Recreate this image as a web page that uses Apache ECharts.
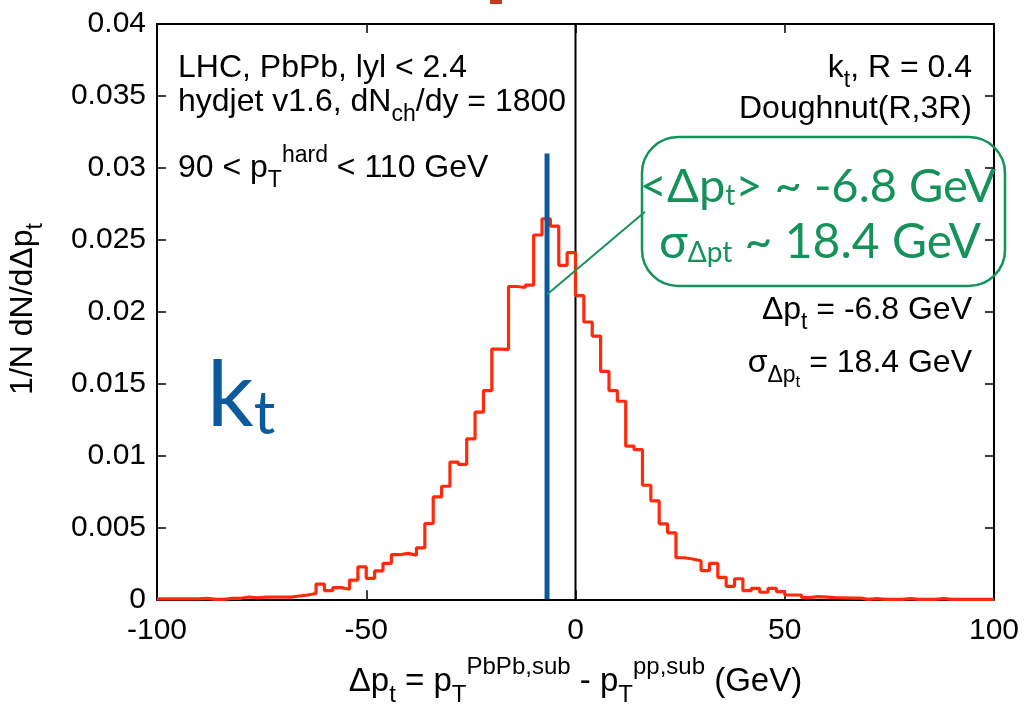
<!DOCTYPE html>
<html>
<head>
<meta charset="utf-8">
<script src="https://cdn.jsdelivr.net/npm/echarts@6/dist/echarts.min.js"></script>
<style>
  html, body { margin: 0; padding: 0; background: #ffffff; }
  #chart { width: 1035px; height: 713px; }
</style>
</head>
<body>
<div id="chart"></div>
<script>
// Δp_t distribution for kt jets, 2 GeV bins from -100 to 100 GeV
const binLow = -100;
const binWidth = 2;
const binValues = [
  0.00003, 0.00003, 0.00003, 0.00003, 0.00003, 0.00007, 0, 0, 0.00007, 0.00007,            // -100 .. -80
  0.00016, 0.0001, 0.00015, 0.00015, 0.00015, 0.00015, 0.00023, 0.0003, 0.0004, 0.00106,   // -80 .. -60
  0.0006, 0.00081, 0.0007, 0.00134, 0.00225, 0.00146, 0.00197, 0.0025, 0.0031, 0.00319,    // -60 .. -40
  0.00307, 0.00358, 0.00527, 0.00712, 0.00786, 0.00954, 0.00938, 0.01116, 0.01301, 0.01451, // -40 .. -20
  0.0174, 0.01738, 0.02175, 0.02168, 0.02184, 0.02533, 0.02646, 0.02595, 0.02322, 0.0241,  // -20 .. 0
  0.02112, 0.01928, 0.0183, 0.01585, 0.01451, 0.01377, 0.01065, 0.0104, 0.00793, 0.00684,  // 0 .. 20
  0.00525, 0.00462, 0.00289, 0.0028, 0.00268, 0.002, 0.0025, 0.00153, 0.0009, 0.00143,     // 20 .. 40
  0.0006, 0.00076, 0.00049, 0.00076, 0.00053, 0.0003, 0.0003, 0.00012, 0.00018, 0.00015,   // 40 .. 60
  0.00012, 0.0001, 0.00008, 0.00008, 0, 0.00005, 0, 0, 0, 0.00005,                         // 60 .. 80
  0, 0, 0, 0.00005, 0, 0, 0, 0, 0, 0                                                       // 80 .. 100
];
const xRange = [-100, 100];
const xStep = 50;
const yRange = [0, 0.04];
const yStep = 0.005;
const meanShift = -6.8;     // <Δp_t> in GeV
const widthSigma = 18.4;    // σ of Δp_t in GeV
const meanLineTop = 0.031;
const connectorAt = 0.0212;

// step outline: one point at each lower bin edge plus the closing upper edge
const histPoints = binValues.map((v, i) => [binLow + i * binWidth, v]);
histPoints.push([binLow + binValues.length * binWidth, binValues[binValues.length - 1]]);

const SANS = '"Liberation Sans", Arial, Helvetica, sans-serif';
const HUMAN = 'Lato, "Noto Sans", sans-serif';
const GREEN = '#15925a';
const BLUE = '#0c5a9c';

// rich-text pieces: main size, subscript (pushed down) and superscript (pushed up)
function richSet(main, sub, subShift, sup, supShift, family, color) {
  return {
    a: { fontSize: main, fontFamily: family, fill: color, color: color },
    s: { fontSize: sub, lineHeight: sub, fontFamily: family, fill: color, color: color, padding: [subShift * 2, 0, 0, 0] },
    u: { fontSize: sup, lineHeight: sup, fontFamily: family, fill: color, color: color, padding: [0, 0, supShift * 2, 0] },
    ss: { fontSize: Math.round(sub * 0.75), lineHeight: sub, fontFamily: family, fill: color, color: color, padding: [subShift * 2 + 12, 0, 0, 0] }
  };
}
const blackRich = richSet(32, 23, 12.8, 23, 12.2, SANS, '#000');

function label(text, x, y, align) {
  return {
    type: 'text', x: x, y: y, z: 50,
    style: { text: text, rich: blackRich, textAlign: align || 'left', textVerticalAlign: 'middle',
             fontSize: 32, fontFamily: SANS, fill: '#000' }
  };
}

const chart = echarts.init(document.getElementById('chart'));

const axisCommon = {
  type: 'value',
  axisLine: { show: true, onZero: false, lineStyle: { color: '#000', width: 2 } },
  axisTick: { show: true, inside: true, length: 9, lineStyle: { color: '#000', width: 1.5 } },
  splitLine: { show: false }
};

chart.setOption({
  animation: false,
  backgroundColor: '#ffffff',
  grid: { left: 157, right: 41, top: 24, bottom: 112, show: false },
  xAxis: [
    Object.assign({}, axisCommon, {
      position: 'bottom', min: xRange[0], max: xRange[1], interval: xStep,
      axisLabel: { color: '#000', fontSize: 30, fontFamily: SANS, margin: 16 },
      name: '{a|Δp}{s|t}{a| = p}{s|T}{u|PbPb,sub}{a| - p}{s|T}{u|pp,sub}{a| (GeV)}',
      nameLocation: 'middle', nameGap: 66,
      nameTextStyle: { rich: {
        a: { fontSize: 33, fontFamily: SANS, color: '#000' },
        s: { fontSize: 24, lineHeight: 24, fontFamily: SANS, color: '#000', padding: [27.6, 0, 0, 0] },
        u: { fontSize: 24, lineHeight: 24, fontFamily: SANS, color: '#000', padding: [0, 0, 28.4, 0] }
      } }
    }),
    Object.assign({}, axisCommon, {
      position: 'top', min: xRange[0], max: xRange[1], interval: xStep,
      axisLabel: { show: false }
    })
  ],
  yAxis: [
    Object.assign({}, axisCommon, {
      position: 'left', min: yRange[0], max: yRange[1], interval: yStep,
      axisLabel: { color: '#000', fontSize: 30, fontFamily: SANS, margin: 11,
                   formatter: v => String(+v.toFixed(4)) }
    }),
    Object.assign({}, axisCommon, {
      position: 'right', min: yRange[0], max: yRange[1], interval: yStep,
      axisLabel: { show: false }
    })
  ],
  series: [
    {
      type: 'line', step: 'end', data: histPoints, showSymbol: false, z: 3,
      lineStyle: { color: '#ff2a0c', width: 3.2 }
    },
    {
      type: 'line', data: [[0, yRange[0]], [0, yRange[1]]], showSymbol: false, z: 2,
      lineStyle: { color: '#000', width: 2 }
    },
    {
      type: 'line', data: [[meanShift, yRange[0]], [meanShift, meanLineTop]], showSymbol: false, z: 4,
      lineStyle: { color: BLUE, width: 5 }
    }
  ],
  graphic: [
    label('{a|LHC, PbPb, lyl < 2.4}', 178, 68.1),
    label('{a|hydjet v1.6, dN}{s|ch}{a|/dy = 1800}', 178, 102.1),
    label('{a|90 < p}{s|T}{u|hard}{a| < 110 GeV}', 178, 168.1),
    label('{a|k}{s|t}{a|, R = 0.4}', 972, 68.1, 'right'),
    label('{a|Doughnut(R,3R)}', 972, 109.1, 'right'),
    label('{a|Δp}{s|t}{a| = ' + meanShift + ' GeV}', 972, 310.1, 'right'),
    label('{a|σ}{s|Δp}{ss|t}{a| = ' + widthSigma + ' GeV}', 972, 363.1, 'right'),
    {
      type: 'text', x: 7, y: 309, rotation: Math.PI / 2, z: 50,
      style: { text: '{a|1/N dN/dΔp}{s|t}', rich: blackRich, textAlign: 'center', textVerticalAlign: 'top',
               fontSize: 32, fontFamily: SANS, fill: '#000' }
    },
    {
      type: 'text', x: 207, y: 396, z: 50,
      style: { text: '{k|k}{t|t}', textAlign: 'left', textVerticalAlign: 'middle',
        rich: {
          k: { fontSize: 92, fontFamily: HUMAN, fill: BLUE, color: BLUE },
          t: { fontSize: 60, lineHeight: 60, fontFamily: HUMAN, fill: BLUE, color: BLUE, padding: [38, 0, 0, 0] }
        } }
    },
    {
      type: 'rect', z: 40,
      shape: { x: 642, y: 137, width: 363, height: 149, r: 36 },
      style: { fill: 'none', stroke: GREEN, lineWidth: 2.5 }
    },
    {
      type: 'text', x: 818, y: 186.6, z: 50,
      style: { text: '{a|<Δp}{s|t}{a|> ~ ' + meanShift + ' GeV}', textAlign: 'center', textVerticalAlign: 'middle',
        rich: {
          a: { fontSize: 47, fontFamily: HUMAN, fill: GREEN, color: GREEN },
          s: { fontSize: 28, lineHeight: 28, fontFamily: HUMAN, fill: GREEN, color: GREEN, padding: [19, 0, 0, 0] }
        } }
    },
    {
      type: 'text', x: 820, y: 242.6, z: 50,
      style: { text: '{a|σ}{s|Δpt}{a| ~ ' + widthSigma + ' GeV}', textAlign: 'center', textVerticalAlign: 'middle',
        rich: {
          a: { fontSize: 48, fontFamily: HUMAN, fill: GREEN, color: GREEN },
          s: { fontSize: 28, lineHeight: 28, fontFamily: HUMAN, fill: GREEN, color: GREEN, padding: [21, 0, 0, 0] }
        } }
    },
    {
      type: 'rect', z: 60,
      shape: { x: 490, y: 0, width: 12, height: 4 },
      style: { fill: '#c23a22' }
    }
  ]
});

// connector from the mean line up to the rounded box
const from = chart.convertToPixel({ gridIndex: 0 }, [meanShift, connectorAt]);
chart.setOption({
  graphic: [{
    id: 'connector', type: 'line', z: 45,
    shape: { x1: from[0], y1: from[1], x2: 645, y2: 211.7 },
    style: { stroke: GREEN, lineWidth: 2 }
  }]
});
</script>
</body>
</html>
